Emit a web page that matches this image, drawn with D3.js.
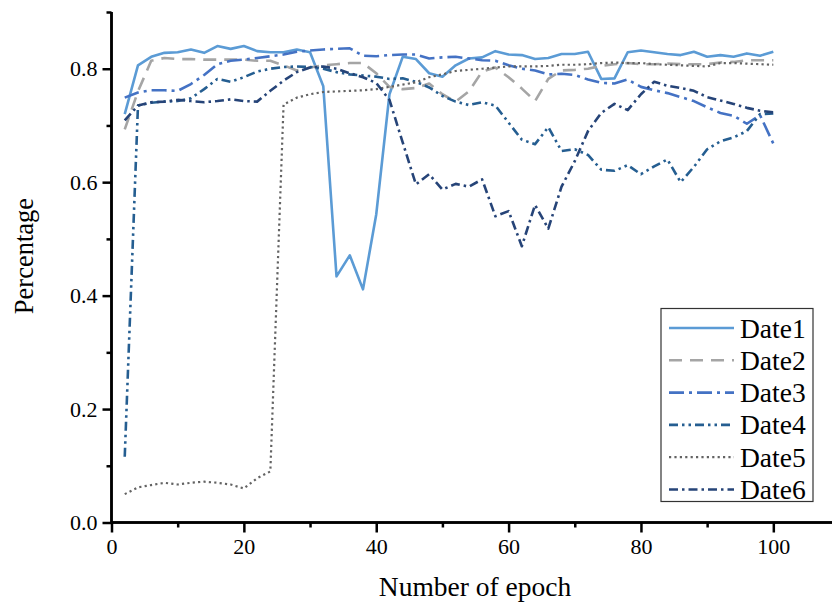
<!DOCTYPE html>
<html><head><meta charset="utf-8">
<script src="https://cdn.jsdelivr.net/npm/d3@7"></script>
<style>body{margin:0;background:#fff}svg{display:block}text{font-family:"Liberation Serif","Times New Roman",serif;fill:#000}</style>
</head><body>
<svg id="c" width="832" height="607"></svg>
<script>
const epochs = [2,4,6,8,10,12,14,16,18,20,22,24,26,28,30,32,34,36,38,40,42,44,46,48,50,52,54,56,58,60,62,64,66,68,70,72,74,76,78,80,82,84,86,88,90,92,94,96,98,100];
const date1 = [0.720,0.806,0.821,0.828,0.829,0.834,0.828,0.840,0.835,0.840,0.831,0.829,0.829,0.834,0.829,0.769,0.434,0.471,0.411,0.543,0.755,0.821,0.817,0.792,0.786,0.806,0.818,0.820,0.831,0.825,0.824,0.817,0.819,0.826,0.826,0.830,0.782,0.783,0.829,0.832,0.829,0.826,0.824,0.830,0.821,0.824,0.821,0.827,0.823,0.830];
const date2 = [0.693,0.760,0.814,0.819,0.817,0.817,0.816,0.816,0.816,0.816,0.814,0.814,0.806,0.797,0.802,0.806,0.808,0.810,0.810,0.792,0.768,0.764,0.766,0.774,0.755,0.742,0.760,0.795,0.802,0.785,0.765,0.743,0.782,0.797,0.798,0.800,0.805,0.808,0.810,0.808,0.808,0.809,0.808,0.808,0.808,0.811,0.812,0.815,0.815,0.815];
const date3 = [0.749,0.758,0.762,0.762,0.761,0.773,0.789,0.808,0.814,0.816,0.819,0.822,0.825,0.830,0.832,0.834,0.835,0.836,0.823,0.822,0.824,0.825,0.825,0.818,0.820,0.821,0.818,0.815,0.814,0.806,0.800,0.797,0.790,0.791,0.789,0.781,0.775,0.774,0.781,0.768,0.762,0.757,0.750,0.743,0.732,0.722,0.717,0.703,0.718,0.668];
const date4 = [0.116,0.735,0.740,0.742,0.743,0.748,0.764,0.782,0.777,0.785,0.795,0.800,0.803,0.804,0.803,0.800,0.794,0.790,0.788,0.786,0.782,0.783,0.777,0.767,0.752,0.742,0.736,0.741,0.735,0.705,0.675,0.667,0.697,0.655,0.658,0.648,0.622,0.620,0.630,0.614,0.628,0.640,0.600,0.627,0.658,0.672,0.679,0.690,0.720,0.721];
const date5 = [0.050,0.062,0.066,0.070,0.067,0.070,0.072,0.070,0.067,0.060,0.078,0.090,0.737,0.749,0.755,0.759,0.760,0.761,0.762,0.764,0.768,0.772,0.776,0.785,0.790,0.796,0.798,0.800,0.802,0.804,0.804,0.804,0.805,0.807,0.807,0.808,0.810,0.811,0.810,0.810,0.808,0.807,0.806,0.805,0.804,0.810,0.810,0.809,0.808,0.807];
const date6 = [0.709,0.735,0.741,0.742,0.745,0.743,0.741,0.743,0.746,0.743,0.742,0.761,0.779,0.794,0.802,0.804,0.800,0.792,0.785,0.775,0.745,0.670,0.596,0.614,0.587,0.597,0.592,0.605,0.540,0.549,0.487,0.560,0.518,0.592,0.637,0.690,0.722,0.738,0.727,0.755,0.777,0.770,0.766,0.761,0.750,0.744,0.738,0.731,0.726,0.723];
const seriesNames = ["Date1","Date2","Date3","Date4","Date5","Date6"];
const xMajorTicks = [0,20,40,60,80,100];
const xMinorTicks = [10,30,50,70,90];
const yMajorTicks = [0.0,0.2,0.4,0.6,0.8];
const yMinorTicks = [0.1,0.3,0.5,0.7,0.9];

const seriesValues = [date1,date2,date3,date4,date5,date6];
const styles = [
  {color:"#5B9BD5", dash:null, w:2.6},
  {color:"#A5A5A5", dash:"13,8", w:2.6},
  {color:"#4472C4", dash:"15,5,3,5", w:2.6},
  {color:"#255E91", dash:"9,4,2.5,4,2.5,4", w:2.6},
  {color:"#636363", dash:"2.2,3.2", w:2.2},
  {color:"#264478", dash:"9,4,2.5,4", w:2.6}
];

const svg = d3.select("#c");
const x = d3.scaleLinear().domain([0,110]).range([111.5, 839.5]);
const y = d3.scaleLinear().domain([0,0.9]).range([522.5, 12]);

const line = d3.line().x((d,i)=>x(epochs[i])).y(d=>y(d));
seriesValues.forEach((vals,k)=>{
  svg.append("path").datum(vals)
    .attr("d", line)
    .attr("fill","none")
    .attr("stroke", styles[k].color)
    .attr("stroke-width", styles[k].w)
    .attr("stroke-linejoin","round")
    .attr("stroke-dasharray", styles[k].dash);
});

const gx = svg.append("g").attr("transform",`translate(0,${y(0)})`);
gx.call(d3.axisBottom(x).tickValues(xMajorTicks).tickSize(10).tickPadding(6).tickFormat(d3.format("d")));
gx.append("g").call(d3.axisBottom(x).tickValues(xMinorTicks).tickSize(5).tickFormat(""));
const gy = svg.append("g").attr("transform",`translate(${x(0)},0)`);
gy.call(d3.axisLeft(y).tickValues(yMajorTicks).tickSize(9).tickPadding(5).tickFormat(d3.format(".1f")));
gy.append("g").call(d3.axisLeft(y).tickValues(yMinorTicks).tickSize(5).tickFormat(""));
svg.selectAll(".domain").attr("stroke","#000").attr("stroke-width",2.5);
svg.selectAll(".tick line").attr("stroke","#000").attr("stroke-width",2.5);
svg.selectAll(".tick text").style("font-family",'"Liberation Serif",serif').style("font-size","22px").attr("fill","#000");
gx.selectAll(".domain").attr("d",`M${x(0)},0H832`);
gy.selectAll(".domain").attr("d",`M0,${y(0.9)}V${y(0)}`);

svg.append("text").attr("x",475).attr("y",596).attr("text-anchor","middle").style("font-size","27.5px").text("Number of epoch");
svg.append("text").attr("transform","translate(33,256) rotate(-90)").attr("text-anchor","middle").style("font-size","26.5px").text("Percentage");

const lg = svg.append("g");
lg.append("rect").attr("x",661).attr("y",308.5).attr("width",152).attr("height",193)
  .attr("fill","#fff").attr("stroke","#333").attr("stroke-width",1.2);
seriesNames.forEach((n,k)=>{
  const yy = 328 + k*32.3;
  lg.append("line").attr("x1",669).attr("x2",734).attr("y1",yy).attr("y2",yy)
    .attr("stroke",styles[k].color).attr("stroke-width",styles[k].w)
    .attr("stroke-dasharray",styles[k].dash);
  lg.append("text").attr("x",740).attr("y",yy+9.5).style("font-size","27.5px").text(n);
});
</script>
</body></html>
